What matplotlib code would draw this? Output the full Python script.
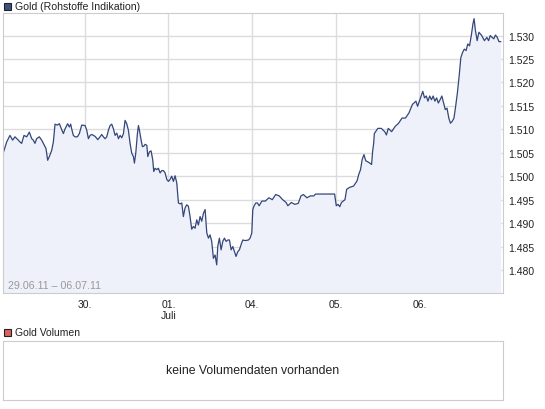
import matplotlib
matplotlib.use('Agg')
import matplotlib.pyplot as plt
from matplotlib.patches import Rectangle

plt.rcParams['font.family'] = ['Liberation Sans', 'DejaVu Sans']

# Gold price, x in trading days from start of 29.06.11
days = [0.03, 0.067, 0.106, 0.138, 0.166, 0.206, 0.226, 0.246, 0.274, 0.306,
        0.338, 0.366, 0.385, 0.405, 0.425, 0.457, 0.485, 0.517, 0.537, 0.557,
        0.577, 0.605, 0.625, 0.645, 0.673, 0.697, 0.725, 0.745, 0.765, 0.796,
        0.816, 0.832, 0.844, 0.864, 0.884, 0.912, 0.936, 0.964,
        1.004, 1.024, 1.044, 1.064, 1.084, 1.104, 1.124, 1.156, 1.183, 1.203,
        1.223, 1.243, 1.263, 1.283, 1.303, 1.323, 1.343, 1.363, 1.383, 1.403,
        1.423, 1.443, 1.463, 1.482, 1.502, 1.522, 1.542, 1.562, 1.582, 1.594,
        1.610, 1.630, 1.642, 1.654, 1.674, 1.690, 1.706, 1.722, 1.742, 1.754,
        1.773, 1.793, 1.813, 1.825, 1.841, 1.861, 1.881, 1.901, 1.921, 1.941,
        1.961, 1.981, 2.001,
        2.020, 2.040, 2.060, 2.080, 2.100, 2.120, 2.140, 2.160, 2.179, 2.199,
        2.219, 2.239, 2.259, 2.279, 2.299, 2.319, 2.339, 2.359, 2.379, 2.399,
        2.419, 2.439, 2.459, 2.479, 2.498, 2.518, 2.538, 2.558, 2.578, 2.590,
        2.610, 2.630, 2.650, 2.670, 2.690, 2.710, 2.730, 2.750, 2.770, 2.790,
        2.809, 2.829, 2.849, 2.869, 2.889, 2.909, 2.929, 2.957, 2.977, 2.997,
        3.009, 3.025, 3.045, 3.065, 3.085, 3.118, 3.159,
        3.201, 3.242, 3.283, 3.325, 3.366, 3.407, 3.428, 3.470, 3.511, 3.552,
        3.585, 3.614, 3.656, 3.697, 3.738, 3.759, 3.987,
        4.007, 4.028, 4.049, 4.069, 4.111, 4.131, 4.164, 4.214, 4.255, 4.276,
        4.297, 4.317, 4.338, 4.359, 4.400, 4.429, 4.442, 4.454, 4.462, 4.504,
        4.545, 4.586, 4.607, 4.628, 4.669, 4.710, 4.752, 4.793, 4.834, 4.876,
        4.917, 4.959, 4.979,
        5.021, 5.041, 5.062, 5.083, 5.103, 5.124, 5.145, 5.165, 5.186, 5.207,
        5.227, 5.248, 5.269, 5.290, 5.310, 5.331, 5.352, 5.372, 5.393, 5.414,
        5.434, 5.455, 5.476, 5.496, 5.517, 5.538, 5.559, 5.579, 5.600, 5.621,
        5.641, 5.654, 5.670, 5.691, 5.712, 5.745, 5.778, 5.807, 5.828, 5.848,
        5.869, 5.890, 5.910, 5.931, 5.952, 5.972]
price = [1.5052, 1.5073, 1.5087, 1.5077, 1.5084, 1.5077, 1.5073, 1.5070, 1.5087, 1.5084,
         1.5094, 1.5080, 1.5077, 1.5070, 1.5080, 1.5084, 1.5077, 1.5066, 1.5059, 1.5034,
         1.5042, 1.5055, 1.5073, 1.5111, 1.5109, 1.5112, 1.5099, 1.5091, 1.5101, 1.5112,
         1.5105, 1.5111, 1.5101, 1.5087, 1.5084, 1.5084, 1.5091, 1.5109,
         1.5108, 1.5098, 1.5080, 1.5087, 1.5089, 1.5087, 1.5085, 1.5078, 1.5084, 1.5089,
         1.5084, 1.5080, 1.5084, 1.5098, 1.5108, 1.5111, 1.5101, 1.5087, 1.5092, 1.5080,
         1.5087, 1.5082, 1.5091, 1.5119, 1.5112, 1.5098, 1.5070, 1.5049, 1.5042, 1.5028,
         1.5049, 1.5091, 1.5108, 1.5098, 1.5077, 1.5063, 1.5064, 1.5068, 1.5066, 1.5042,
         1.5052, 1.5054, 1.5035, 1.5010, 1.5017, 1.5014, 1.5017, 1.5007, 1.5012, 1.5012,
         1.5007, 1.4993, 1.4989,
         1.4993, 1.5000, 1.4989, 1.5001, 1.4986, 1.4943, 1.4941, 1.4943, 1.4914, 1.4932,
         1.4939, 1.4936, 1.4914, 1.4887, 1.4893, 1.4889, 1.4907, 1.4896, 1.4914, 1.4904,
         1.4921, 1.4929, 1.4879, 1.4868, 1.4875, 1.4861, 1.4825, 1.4832, 1.4811, 1.4850,
         1.4868, 1.4843, 1.4861, 1.4868, 1.4861, 1.4864, 1.4864, 1.4843, 1.4850, 1.4839,
         1.4829, 1.4839, 1.4843, 1.4854, 1.4864, 1.4863, 1.4863, 1.4864, 1.4868, 1.4879,
         1.4929, 1.4937, 1.4943, 1.4943, 1.4937, 1.4947, 1.4947,
         1.4954, 1.4950, 1.4961, 1.4958, 1.4950, 1.4944, 1.4937, 1.4944, 1.4940, 1.4942,
         1.4958, 1.4961, 1.4954, 1.4958, 1.4958, 1.4962, 1.4962,
         1.4937, 1.4940, 1.4935, 1.4944, 1.4950, 1.4972, 1.4976, 1.4979, 1.4990, 1.5004,
         1.5014, 1.5036, 1.5046, 1.5033, 1.5029, 1.5025, 1.5054, 1.5070, 1.5091, 1.5102,
         1.5102, 1.5095, 1.5088, 1.5102, 1.5095, 1.5106, 1.5113, 1.5124, 1.5124, 1.5135,
         1.5153, 1.5160, 1.5149,
         1.5171, 1.5181, 1.5167, 1.5171, 1.5160, 1.5171, 1.5163, 1.5171, 1.5160, 1.5167,
         1.5156, 1.5163, 1.5171, 1.5156, 1.5142, 1.5145, 1.5124, 1.5113, 1.5117, 1.5124,
         1.5149, 1.5178, 1.5214, 1.5253, 1.5264, 1.5271, 1.5268, 1.5282, 1.5278, 1.5300,
         1.5325, 1.5336, 1.5311, 1.5289, 1.5307, 1.5300, 1.5289, 1.5296, 1.5289, 1.5300,
         1.5296, 1.5293, 1.5301, 1.5296, 1.5287, 1.5287]

day_ticks = [1, 2, 3, 4, 5]
day_labels = ['30.', '01.\nJuli', '04.', '05.', '06.']
price_ticks = [1.480, 1.485, 1.490, 1.495, 1.500, 1.505, 1.510, 1.515, 1.520, 1.525, 1.530]

W, H = 545, 410
fig = plt.figure(figsize=(W / 100, H / 100), dpi=100)


def box(x0, y0, x1, y1):
    # pixel box (top-left origin) -> figure fraction rect
    return [x0 / W, 1 - y1 / H, (x1 - x0) / W, (y1 - y0) / H]


grid_col = '#dcdcdc'
line_col = '#34467a'

ax = fig.add_axes(box(3, 14, 503, 294))
ylo, yhi = 1.4751, 1.5348
ax.fill_between(days, price, ylo, color='#eef1f9', lw=0)
ax.plot(days, price, color=line_col, lw=0.9)
ax.set_xlim(0.023, 6.0)
ax.set_ylim(ylo, yhi)
ax.set_xticks(day_ticks)
ax.set_xticklabels(day_labels)
ax.set_yticks(price_ticks)
ax.set_yticklabels([f'{p:.3f}' for p in price_ticks])
ax.yaxis.tick_right()
ax.tick_params(length=0, labelsize=7.5, colors='#222222')
ax.tick_params(axis='y', pad=4)
ax.tick_params(axis='x', pad=4)
ax.grid(True, color=grid_col, lw=1)
ax.set_axisbelow(True)
for s in ax.spines.values():
    s.set_color('#cccccc')
ax.text(0.009, 0.012, '29.06.11 \u2013 06.07.11', transform=ax.transAxes,
        fontsize=7.7, color='#999999', ha='left', va='bottom')

# legend squares and panel titles
fig.add_artist(Rectangle((3.5 / W, 1 - 10.5 / H), 7 / W, 7 / H,
                         transform=fig.transFigure, facecolor='#3f5080',
                         edgecolor='#222222', lw=0.8))
fig.text(15 / W, 1 - 7 / H, 'Gold (Rohstoffe Indikation)', fontsize=7.6,
         color='#222222', va='center', ha='left')
fig.add_artist(Rectangle((3.5 / W, 1 - 336.5 / H), 7 / W, 7 / H,
                         transform=fig.transFigure, facecolor='#d9645f',
                         edgecolor='#222222', lw=0.8))
fig.text(15 / W, 1 - 333 / H, 'Gold Volumen', fontsize=7.5,
         color='#222222', va='center', ha='left')

# empty volume panel
vax = fig.add_axes(box(3, 342, 503, 401))
vax.set_xticks([])
vax.set_yticks([])
for s in vax.spines.values():
    s.set_color('#cccccc')
vax.text(0.5, 0.5, 'keine Volumendaten vorhanden', transform=vax.transAxes,
         fontsize=8.8, color='#222222', ha='center', va='center')

fig.savefig('out.png', dpi=100)
